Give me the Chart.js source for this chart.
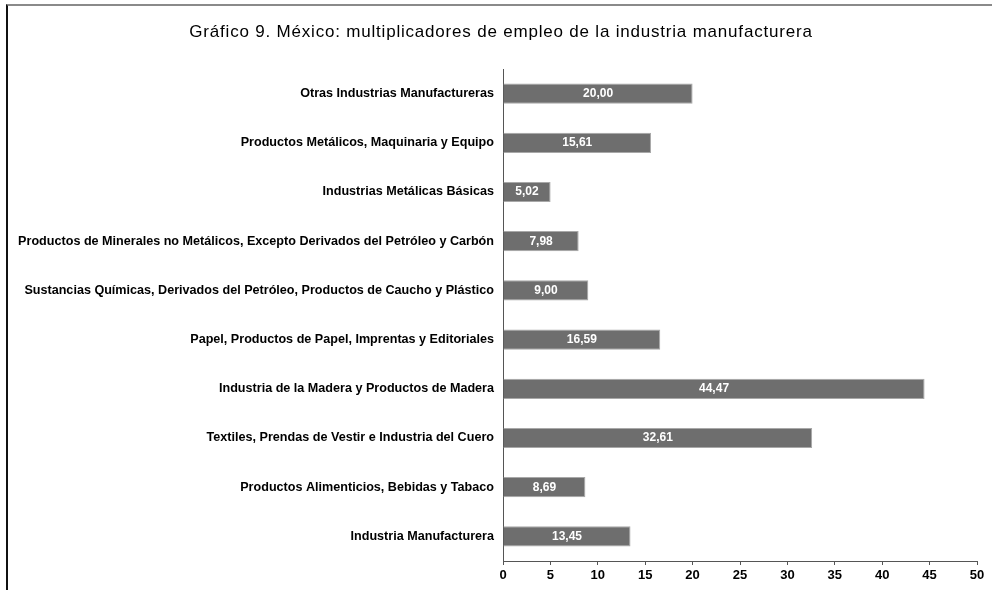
<!DOCTYPE html>
<html>
<head>
<meta charset="utf-8">
<script src="https://cdn.jsdelivr.net/npm/chart.js@4/dist/chart.umd.min.js"></script>
<style>
  html, body { margin: 0; padding: 0; background: #fff; overflow: hidden; }
  #wrap { position: relative; width: 992px; height: 590px; }
  #frame { position: absolute; left: 6px; top: 4px; width: 1000px; height: 600px;
           border-left: 2px solid #111; border-top: 2px solid #8a8a8a; box-sizing: border-box; pointer-events: none; }
  canvas { position: absolute; left: 0; top: 0; }
</style>
</head>
<body>
<div id="wrap">
  <canvas id="c" width="992" height="590"></canvas>
  <div id="frame"></div>
</div>
<script>
const titleText = 'Gráfico 9. México: multiplicadores de empleo de la industria manufacturera';
const categories = [
  'Otras Industrias Manufactureras',
  'Productos Metálicos, Maquinaria y Equipo',
  'Industrias Metálicas Básicas',
  'Productos de Minerales no Metálicos, Excepto Derivados del Petróleo y Carbón',
  'Sustancias Químicas, Derivados del Petróleo, Productos de Caucho y Plástico',
  'Papel, Productos de Papel, Imprentas y Editoriales',
  'Industria de la Madera y Productos de Madera',
  'Textiles, Prendas de Vestir e Industria del Cuero',
  'Productos Alimenticios, Bebidas y Tabaco',
  'Industria Manufacturera'
];
const multiplicadores = [20.00, 15.61, 5.02, 7.98, 9.00, 16.59, 44.47, 32.61, 8.69, 13.45];
const xTicks = [0, 5, 10, 15, 20, 25, 30, 35, 40, 45, 50];

const FONT = '"Liberation Sans", Arial, sans-serif';

const titleDraw = {
  id: 'titleDraw',
  afterDraw(chart) {
    const ctx = chart.ctx;
    ctx.save();
    ctx.fillStyle = '#000';
    ctx.font = '17px ' + FONT;
    if ('letterSpacing' in ctx) ctx.letterSpacing = '0.8px';
    ctx.textAlign = 'center';
    ctx.textBaseline = 'middle';
    ctx.fillText(titleText, 501, 32);
    ctx.restore();
  }
};

const valueLabels = {
  id: 'valueLabels',
  afterDatasetsDraw(chart) {
    const ctx = chart.ctx;
    const meta = chart.getDatasetMeta(0);
    ctx.save();
    ctx.fillStyle = '#ffffff';
    ctx.font = 'bold 12px ' + FONT;
    ctx.textAlign = 'center';
    ctx.textBaseline = 'middle';
    meta.data.forEach((el, i) => {
      const v = chart.data.datasets[0].data[i];
      const txt = v.toFixed(2).replace('.', ',');
      ctx.fillText(txt, (el.base + el.x) / 2, el.y);
    });
    ctx.restore();
  }
};

new Chart(document.getElementById('c'), {
  type: 'bar',
  data: {
    labels: categories,
    datasets: [{
      data: multiplicadores,
      backgroundColor: '#6e6e6e',
      borderColor: '#a8a8a8',
      borderWidth: 1,
      borderSkipped: 'start',
      barPercentage: 0.41,
      categoryPercentage: 1
    }]
  },
  options: {
    indexAxis: 'y',
    responsive: false,
    animation: false,
    devicePixelRatio: 1,
    layout: { padding: { left: 0, right: 15, top: 69, bottom: 0 } },
    plugins: {
      legend: { display: false },
      tooltip: { enabled: false },
      title: { display: false }
    },
    scales: {
      y: {
        afterFit(scale) { scale.width = 503; },
        grid: { display: false, drawTicks: false },
        border: { display: true, color: '#555', width: 1 },
        ticks: {
          color: '#000',
          padding: 9,
          font: { family: FONT, size: 12.6, weight: 'bold' }
        }
      },
      x: {
        min: 0, max: 50,
        afterBuildTicks(scale) { scale.ticks = xTicks.map(v => ({ value: v })); },
        afterFit(scale) { scale.height = 29; },
        grid: { display: true, drawOnChartArea: false, drawTicks: true, tickLength: 4, color: '#555' },
        border: { display: true, color: '#555', width: 1 },
        ticks: {
          color: '#000',
          padding: 3,
          font: { family: FONT, size: 13, weight: 'bold' }
        }
      }
    }
  },
  plugins: [valueLabels, titleDraw]
});
</script>
</body>
</html>
